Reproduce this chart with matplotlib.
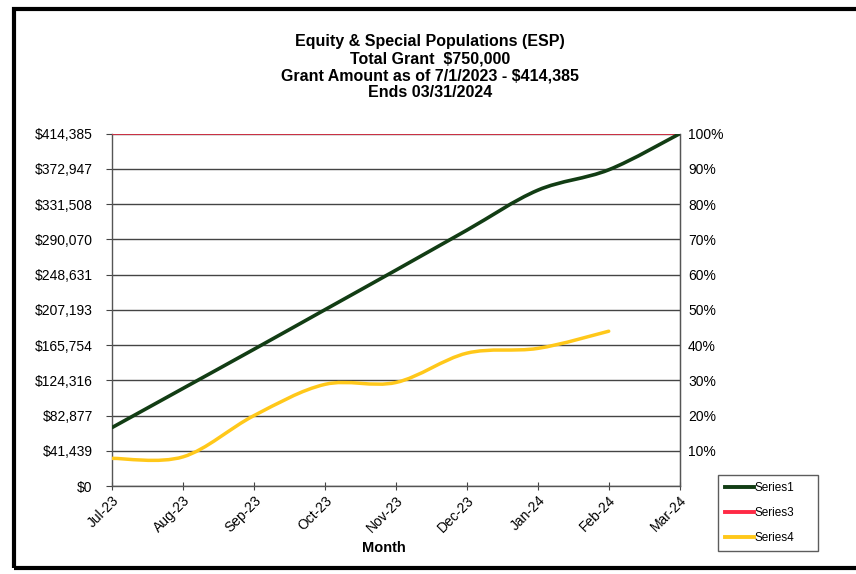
import matplotlib
matplotlib.use('Agg')
import matplotlib.pyplot as plt
import numpy as np
from matplotlib.path import Path
from matplotlib.patches import PathPatch, Rectangle
from matplotlib.lines import Line2D

plt.rcParams['font.family'] = ['Liberation Sans', 'DejaVu Sans']

# data
months = ['Jul-23', 'Aug-23', 'Sep-23', 'Oct-23', 'Nov-23', 'Dec-23', 'Jan-24', 'Feb-24', 'Mar-24']
series1 = [69000, 115000, 161000, 207500, 254000, 301000, 348000, 372000, 414385]
series3 = [414385, 414385, 414385, 414385, 414385, 414385, 414385, 414385, 414385]
series4 = [32700, 34500, 83000, 119700, 121900, 156400, 162000, 182200]
y_ticks = [0, 41439, 82877, 124316, 165754, 207193, 248631, 290070, 331508, 372947, 414385]
pct_labels = ['10%', '20%', '30%', '40%', '50%', '60%', '70%', '80%', '90%', '100%']


def smooth_path(xs, ys):
    # Excel style smoothed line: cubic bezier through each point
    xs = np.asarray(xs, float)
    ys = np.asarray(ys, float)
    n = len(xs)
    verts = [(xs[0], ys[0])]
    codes = [Path.MOVETO]
    for i in range(n - 1):
        x0, y0 = (xs[i - 1], ys[i - 1]) if i > 0 else (xs[i], ys[i])
        x3, y3 = (xs[i + 2], ys[i + 2]) if i + 2 < n else (xs[i + 1], ys[i + 1])
        c1 = (xs[i] + (xs[i + 1] - x0) / 6, ys[i] + (ys[i + 1] - y0) / 6)
        c2 = (xs[i + 1] - (x3 - xs[i]) / 6, ys[i + 1] - (y3 - ys[i]) / 6)
        verts += [c1, c2, (xs[i + 1], ys[i + 1])]
        codes += [Path.CURVE4] * 3
    return Path(verts, codes)


fig = plt.figure(figsize=(8.56, 5.74), dpi=100)
ax = fig.add_axes([0.131, 0.153, 0.663, 0.614])

x = np.arange(len(months))
c1 = '#123d14'
c3 = '#ff2a45'
c4 = '#ffc81a'

ax.add_patch(PathPatch(smooth_path(x, series3), fill=False, edgecolor=c3, lw=1.4, zorder=3))
ax.add_patch(PathPatch(smooth_path(x[:len(series4)], series4), fill=False, edgecolor=c4, lw=2.5,
                       capstyle='round', zorder=4))
ax.add_patch(PathPatch(smooth_path(x, series1), fill=False, edgecolor=c1, lw=2.6,
                       capstyle='round', zorder=5))

ax.set_xlim(0, len(months) - 1)
ax.set_ylim(0, y_ticks[-1])
ax.set_yticks(y_ticks)
ax.set_yticklabels(['${:,}'.format(v) for v in y_ticks], fontsize=10)
ax.set_xticks(x)
ax.set_xticklabels(months, rotation=45, ha='right', rotation_mode='anchor', fontsize=10)
ax.tick_params(axis='x', direction='inout', length=6, color='#444', pad=2)
ax.tick_params(axis='y', direction='out', length=4, color='#444', pad=10)
ax.grid(axis='y', color='#444', lw=1)
ax.set_axisbelow(True)
ax.spines['top'].set_visible(False)
for s in ['left', 'bottom', 'right']:
    ax.spines[s].set_color('#555')
    ax.spines[s].set_linewidth(1)
ax.set_xlabel('Month', fontsize=10.5, fontweight='bold')
ax.xaxis.set_label_coords(0.479, -0.155)

ax2 = ax.twinx()
ax2.set_ylim(0, 1)
ax2.set_yticks(np.arange(1, 11) / 10)
ax2.set_yticklabels(pct_labels, fontsize=10)
ax2.tick_params(axis='y', length=0, pad=6)
for s in ['top', 'left', 'bottom']:
    ax2.spines[s].set_visible(False)
ax2.spines['right'].set_color('#555')

fig.text(0.502, 0.94, 'Equity & Special Populations (ESP)\nTotal Grant  $750,000\n'
         'Grant Amount as of 7/1/2023 - $414,385\nEnds 03/31/2024',
         ha='center', va='top', fontsize=11.5, fontweight='bold', linespacing=1.15)

handles = [Line2D([], [], color=c1, lw=2.8),
           Line2D([], [], color=c3, lw=2.8),
           Line2D([], [], color=c4, lw=2.8)]
leg = fig.legend(handles, ['Series1', 'Series3', 'Series4'], loc='upper left',
                 bbox_to_anchor=(0.839, 0.033, 0.117, 0.14), mode='expand', fontsize=8.5,
                 frameon=True, fancybox=False, edgecolor='#333', handlelength=2.4,
                 handletextpad=0.1, labelspacing=1.1, borderpad=0.6, borderaxespad=0)
leg.get_frame().set_linewidth(1)

# scanned page frame
fig.patches.append(Rectangle((0.016, 0.01), 1.2, 0.975, transform=fig.transFigure,
                             fill=False, edgecolor='black', lw=3))

fig.savefig('out.png', dpi=100)
